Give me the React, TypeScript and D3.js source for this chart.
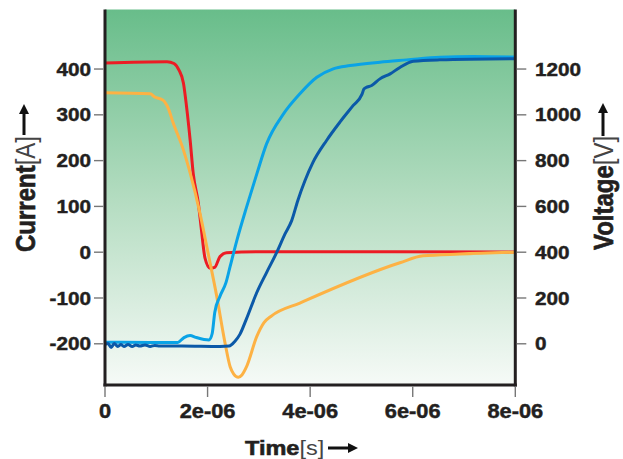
import React from "react";
import * as d3 from "d3";

// time in microseconds
const tRed = [0, 1.21, 1.345, 1.44, 1.53, 1.59, 1.66, 1.72, 1.82, 1.88, 1.95, 2.05, 2.14, 2.24, 2.37, 3.02, 8];
const iRed = [413, 416, 412, 398, 369, 318, 245, 172, 107, 49, -13, -35, -33, -10, -1, 1, 0.5];

const tOrange = [0, 0.88, 0.97, 1.13, 1.23, 1.33, 1.53, 1.66, 1.85, 2.01, 2.18, 2.34, 2.44, 2.51, 2.6, 2.67, 2.76, 2.96, 3.1, 3.25, 3.8, 5.75, 6.2, 6.92, 8];
const iOrange = [348, 346, 339, 332, 315, 282, 223, 173, 86, -2, -97, -198, -250, -266, -273, -268, -250, -184, -154, -139, -111, -23, -8, -4, 0];

const tLight = [0, 0.88, 1.42, 1.54, 1.66, 1.77, 1.93, 2.03, 2.09, 2.14, 2.24, 2.36, 2.44, 2.57, 2.76, 2.96, 3.15, 3.48, 3.8, 4.13, 4.45, 4.78, 5.36, 5.88, 6.53, 7.18, 8];
const vLight = [7, 6, 6, 27, 36, 28, 19, 17, 45, 137, 207, 268, 338, 451, 597, 742, 873, 1004, 1092, 1164, 1201, 1215, 1230, 1240, 1252, 1255, 1252];

const tDark = [0, 0.06, 0.12, 0.18, 0.25, 0.31, 0.37, 0.45, 0.53, 0.6, 0.68, 0.78, 0.88, 0.97, 1.07, 1.5, 2.24, 2.42, 2.53, 2.63, 2.76, 2.96, 3.15, 3.35, 3.51, 3.64, 3.76, 3.9, 4.05, 4.32, 4.58, 4.84, 5.01, 5.05, 5.09, 5.2, 5.36, 5.56, 5.75, 6.01, 6.53, 8];
const vDark = [-3, 1, -16, 1, -12, -3, -12, -3, -12, -5, -10, -5, -12, -7, -10, -10, -12, -10, 10, 41, 110, 224, 311, 400, 480, 538, 626, 713, 790, 888, 968, 1041, 1089, 1113, 1119, 1128, 1157, 1179, 1207, 1234, 1240, 1245];

const timeTicks = [0, 2e-6, 4e-6, 6e-6, 8e-6];
const timeLabels = ["0", "2e-06", "4e-06", "6e-06", "8e-06"];
const currentTicks = [-200, -100, 0, 100, 200, 300, 400];
const voltageTicks = [0, 200, 400, 600, 800, 1000, 1200];

const W = 623, H = 459;
const L = 105, R = 515.3, T = 9.5, B = 385;
const SX = 1.12; // glyphs in the source are a bit wide
const INK = "#231f20";
const FONT = "'Liberation Sans', Arial, Helvetica, sans-serif";

const x = d3.scaleLinear().domain([0, 8e-6]).range([L, R]);
const yI = d3.scaleLinear().domain([-290, 530]).range([B, T]);
const yV = d3.scaleLinear().domain([-180, 1460]).range([B, T]);

const mk = (ts: number[], vs: number[]) => ts.map((t, i) => [t * 1e-6, vs[i]] as [number, number]);

function linePath(data: [number, number][], y: d3.ScaleLinear<number, number>) {
  return d3.line<[number, number]>().x((d) => x(d[0])).y((d) => y(d[1])).curve(d3.curveMonotoneX)(data) || "";
}

// horizontal arrow pointing right, drawn in local coords
function Arrow({ len }: { len: number }) {
  const hl = 10, hw = 5;
  return (
    <g>
      <line x1={0} y1={0} x2={len - hl + 1} y2={0} stroke="#111" strokeWidth={3} />
      <path d={`M${len},0L${len - hl},${-hw}L${len - hl},${hw}Z`} fill="#111" />
    </g>
  );
}

export default function App() {
  const series = [
    { d: linePath(mk(tRed, iRed), yI), c: "#ec1c24" },
    { d: linePath(mk(tOrange, iOrange), yI), c: "#fdb244" },
    { d: linePath(mk(tLight, vLight), yV), c: "#0aa3e6" },
    { d: linePath(mk(tDark, vDark), yV), c: "#0b59a8" },
  ];

  const bold = { fontWeight: 700, fill: INK, stroke: INK, strokeWidth: 0.45 } as const;

  return (
    <svg width={W} height={H} style={{ position: "absolute", left: 0, top: 0, display: "block" }} fontFamily={FONT}>
      <defs>
        <linearGradient id="bg" x1="0" y1="0" x2="0" y2="1">
          <stop offset="0" stopColor="#68bd8a" />
          <stop offset="0.5" stopColor="#b3dcc0" />
          <stop offset="1" stopColor="#f6faf7" />
        </linearGradient>
        <clipPath id="plot">
          <rect x={L} y={T} width={R - L} height={B - T} />
        </clipPath>
      </defs>
      <rect width={W} height={H} fill="#fff" />
      <rect x={L} y={T} width={R - L} height={B - T} fill="url(#bg)" />

      <g clipPath="url(#plot)" fill="none" strokeLinejoin="round" strokeLinecap="round">
        {series.map((s, i) => (
          <path key={i} d={s.d} stroke={s.c} strokeWidth={3} />
        ))}
      </g>

      {/* frame */}
      <line x1={L} y1={T} x2={L} y2={B + 1.5} stroke={INK} strokeWidth={3} />
      <line x1={R} y1={T} x2={R} y2={B + 1.5} stroke={INK} strokeWidth={3} />
      <line x1={L - 1.5} y1={B} x2={R + 1.5} y2={B} stroke={INK} strokeWidth={3} />

      {/* left axis */}
      {currentTicks.map((v) => (
        <g key={v}>
          <line x1={L - 11} x2={L - 1.5} y1={yI(v)} y2={yI(v)} stroke="#777" strokeWidth={1.4} />
          <text transform={`translate(91,${yI(v)}) scale(${SX},1)`} textAnchor="end" dy="0.36em" fontSize={18.5} {...bold}>
            {v}
          </text>
        </g>
      ))}

      {/* right axis */}
      {voltageTicks.map((v) => (
        <g key={v}>
          <line x1={R + 1.5} x2={R + 11} y1={yV(v)} y2={yV(v)} stroke="#777" strokeWidth={1.4} />
          <text transform={`translate(535,${yV(v)}) scale(${SX},1)`} textAnchor="start" dy="0.36em" fontSize={18.5} {...bold}>
            {v}
          </text>
        </g>
      ))}

      {/* bottom axis */}
      {timeTicks.map((t, i) => (
        <g key={t}>
          <line x1={x(t)} x2={x(t)} y1={B + 1.5} y2={B + 12} stroke="#777" strokeWidth={1.4} />
          <text transform={`translate(${x(t)},418) scale(${SX},1)`} textAnchor="middle" fontSize={19.5} {...bold}>
            {timeLabels[i]}
          </text>
        </g>
      ))}

      {/* axis titles */}
      <text transform={`translate(245,455) scale(${SX},1)`} fontSize={21} fill={INK}>
        <tspan {...bold} strokeWidth={0.6}>Time</tspan>
        <tspan fontWeight={300} fill="#444">[s]</tspan>
      </text>
      <g transform="translate(328,448)">
        <Arrow len={30} />
      </g>

      <text transform={`translate(35,252) scale(${SX},1) rotate(-90)`} fontSize={24} fill={INK}>
        <tspan {...bold} strokeWidth={0.6}>Current</tspan>
        <tspan fontWeight={300} fill="#444">[A]</tspan>
      </text>
      <g transform="translate(24,135) rotate(-90)">
        <Arrow len={31} />
      </g>

      <text transform={`translate(613,250) scale(${SX},1) rotate(-90)`} fontSize={24} fill={INK}>
        <tspan {...bold} strokeWidth={0.6}>Voltage</tspan>
        <tspan fontWeight={300} fill="#444">[V]</tspan>
      </text>
      <g transform="translate(603,136) rotate(-90)">
        <Arrow len={33} />
      </g>
    </svg>
  );
}
